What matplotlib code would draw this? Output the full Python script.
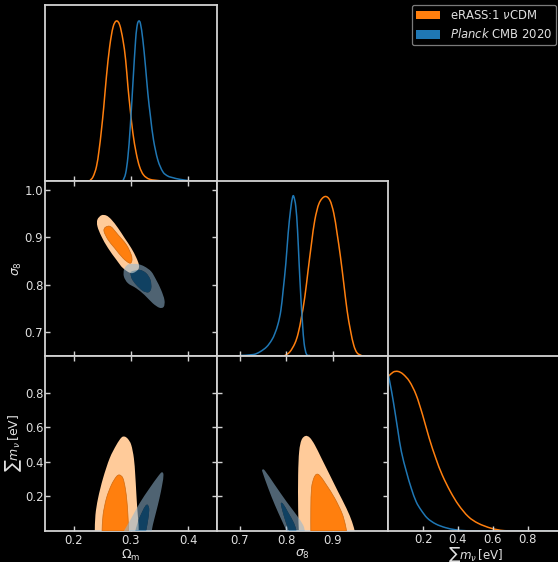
import numpy as np
import matplotlib
matplotlib.use("Agg")
import matplotlib.pyplot as plt
from matplotlib.path import Path
from matplotlib.patches import PathPatch, Patch

# ---------------------------------------------------------------- style
ORANGE = "#ff7f0e"
ORANGE_LIGHT = "#ffcb9a"
ORANGE_EDGE = "#d06a10"
BLUE = "#1f77b4"
BLUE_LIGHT = "#91b6d1"
BLUE_ALPHA = 0.55
FRAME = "#d2d2d2"
TEXT = "#e0e0e0"
FS = 8.4

# ---------------------------------------------------------------- parameters
param_labels = [r"$\Omega_\mathrm{m}$", r"$\sigma_8$", r"$\sum m_\nu\,[\mathrm{eV}]$"]
x_limits = [(0.15, 0.45), (0.65, 1.02), (0.0, 1.0)]
y_limits = [None, (0.65, 1.02), (0.0, 1.017)]
x_ticks = [[0.2, 0.3, 0.4], [0.7, 0.8, 0.9], [0.2, 0.4, 0.6, 0.8]]
y_ticks = [None, [0.7, 0.8, 0.9, 1.0], [0.2, 0.4, 0.6, 0.8]]

series_labels = [r"eRASS:1 $\nu$CDM", r"$\mathit{Planck}$ CMB 2020"]

# ---------------------------------------------------------------- 1D marginals
om_grid_erass = [0.2283, 0.234, 0.2399, 0.2445, 0.2486, 0.2527, 0.2573, 0.263, 0.2688,
                 0.2747, 0.2805, 0.2862, 0.2909, 0.2949, 0.299, 0.3036, 0.3094, 0.3152,
                 0.3222, 0.3328, 0.3502]
om_pdf_erass = [0.0, 0.025, 0.088, 0.192, 0.317, 0.463, 0.651, 0.839, 0.960, 1.0, 0.975,
                0.881, 0.756, 0.589, 0.443, 0.297, 0.172, 0.088, 0.036, 0.009, 0.0]
om_grid_planck = [0.2862, 0.2909, 0.2949, 0.299, 0.3036, 0.3083, 0.3112, 0.314, 0.3169,
                  0.321, 0.3256, 0.3297, 0.3343, 0.3396, 0.3471, 0.3559, 0.3646, 0.3733,
                  0.3849, 0.4023]
om_pdf_planck = [0.0, 0.046, 0.150, 0.338, 0.610, 0.881, 0.975, 1.0, 0.981, 0.881, 0.714,
                 0.547, 0.401, 0.255, 0.130, 0.056, 0.029, 0.019, 0.009, 0.0]

s8_grid_erass = [0.7969, 0.8077, 0.8184, 0.8255, 0.8328, 0.8399, 0.847, 0.8543, 0.8614,
                 0.8707, 0.8829, 0.8937, 0.9023, 0.9094, 0.9167, 0.9238, 0.9309, 0.9382,
                 0.9453, 0.9524, 0.9618]
s8_pdf_erass = [0.0, 0.023, 0.076, 0.139, 0.243, 0.369, 0.537, 0.706, 0.852, 0.958, 1.0,
                0.978, 0.895, 0.769, 0.621, 0.454, 0.285, 0.159, 0.065, 0.017, 0.0]
s8_grid_planck = [0.7001, 0.7287, 0.7431, 0.7575, 0.7683, 0.7754, 0.7825, 0.7883, 0.7932,
                  0.799, 0.804, 0.8091, 0.8134, 0.8162, 0.8205, 0.8242, 0.8276, 0.8313,
                  0.8349, 0.8384, 0.8435, 0.8506]
s8_pdf_planck = [0.0, 0.006, 0.023, 0.054, 0.096, 0.139, 0.202, 0.285, 0.411, 0.580, 0.769,
                 0.915, 0.995, 1.0, 0.936, 0.789, 0.580, 0.369, 0.202, 0.076, 0.008, 0.0]

mnu_grid_erass = [0.0, 0.028, 0.056, 0.085, 0.122, 0.16, 0.197, 0.235, 0.273, 0.31, 0.357,
                  0.404, 0.46, 0.517, 0.592, 0.667, 0.78, 1.0]
mnu_pdf_erass = [0.968, 0.996, 1.0, 0.983, 0.937, 0.853, 0.728, 0.582, 0.456, 0.351, 0.247,
                 0.163, 0.090, 0.048, 0.017, 0.002, 0.0, 0.0]
mnu_grid_planck = [0.0, 0.019, 0.038, 0.056, 0.075, 0.104, 0.132, 0.16, 0.188, 0.225, 0.273,
                   0.329, 0.385, 0.442, 0.5, 1.0]
mnu_pdf_planck = [0.98, 0.874, 0.749, 0.623, 0.498, 0.372, 0.268, 0.184, 0.132, 0.080, 0.044,
                  0.021, 0.008, 0.002, 0.0, 0.0]

# ---------------------------------------------------------------- 2D credible regions
# (x, y) boundary points of the 68% (inner) and 95% (outer) regions
om_s8_erass_95 = [(0.2486, 0.9468), (0.2573, 0.9462), (0.266, 0.9377), (0.2775, 0.920),
                  (0.2891, 0.8987), (0.3007, 0.8774), (0.3094, 0.8574), (0.314, 0.842),
                  (0.3123, 0.8313), (0.3007, 0.8243), (0.2862, 0.835), (0.2747, 0.8526),
                  (0.2601, 0.8774), (0.2486, 0.9021), (0.2416, 0.9234), (0.2416, 0.9377)]
om_s8_erass_68 = [(0.2555, 0.9213), (0.2648, 0.9228), (0.2775, 0.9057), (0.2921, 0.8845),
                  (0.3007, 0.8632), (0.3018, 0.8504), (0.2978, 0.8455), (0.2862, 0.8562),
                  (0.2717, 0.8774), (0.2601, 0.8951), (0.2531, 0.9128)]
om_s8_planck_95 = [(0.2978, 0.8434), (0.3123, 0.8434), (0.3239, 0.8383), (0.3356, 0.8277),
                   (0.3443, 0.810), (0.3529, 0.7887), (0.3587, 0.7674), (0.3575, 0.7532),
                   (0.350, 0.7511), (0.3384, 0.7604), (0.3239, 0.7781), (0.3094, 0.7923),
                   (0.2949, 0.803), (0.2879, 0.817), (0.2879, 0.8313), (0.2921, 0.8398)]
om_s8_planck_68 = [(0.3007, 0.8277), (0.3152, 0.8313), (0.3268, 0.8243), (0.3343, 0.810),
                   (0.3356, 0.7923), (0.3309, 0.7838), (0.321, 0.7866), (0.3094, 0.7994),
                   (0.3018, 0.8121), (0.2996, 0.8221)]

om_mnu_erass_95 = [(0.237, 0.0), (0.2381, 0.0928), (0.2427, 0.1895), (0.2514, 0.3054),
                   (0.263, 0.4214), (0.2747, 0.4986), (0.2834, 0.541), (0.2891, 0.547),
                   (0.2949, 0.5333), (0.3007, 0.4986), (0.3053, 0.4214), (0.3077, 0.3246),
                   (0.3094, 0.228), (0.3112, 0.1314), (0.3135, 0.0348), (0.3135, 0.0)]
om_mnu_erass_68 = [(0.2497, 0.0), (0.2514, 0.0928), (0.2573, 0.1895), (0.266, 0.2667),
                   (0.2747, 0.3148), (0.2804, 0.3246), (0.2862, 0.3054), (0.2903, 0.2475),
                   (0.2932, 0.170), (0.2949, 0.0928), (0.2961, 0.0)]
om_mnu_planck_95 = [(0.2879, 0.0), (0.3007, 0.0734), (0.3152, 0.1604), (0.3326, 0.2475),
                    (0.3471, 0.3148), (0.354, 0.3401), (0.357, 0.3246), (0.3547, 0.2667),
                    (0.350, 0.1895), (0.3443, 0.1121), (0.3384, 0.0348), (0.3366, 0.0)]
om_mnu_planck_68 = [(0.3077, 0.0), (0.3123, 0.0541), (0.3193, 0.1082), (0.3257, 0.1469),
                    (0.3297, 0.1507), (0.3321, 0.1217), (0.3297, 0.0541), (0.3268, 0.0)]

s8_mnu_erass_95 = [(0.827, 0.0), (0.8255, 0.1314), (0.8255, 0.3246), (0.8277, 0.4599),
                   (0.8328, 0.5275), (0.8414, 0.5507), (0.8506, 0.541), (0.8614, 0.4986),
                   (0.8758, 0.4214), (0.8937, 0.3246), (0.9115, 0.228), (0.9296, 0.1314),
                   (0.9416, 0.0541), (0.9474, 0.0)]
s8_mnu_erass_68 = [(0.8528, 0.0), (0.8528, 0.1314), (0.8543, 0.2475), (0.8592, 0.3054),
                   (0.865, 0.3285), (0.8722, 0.3208), (0.8865, 0.2667), (0.9044, 0.1895),
                   (0.9201, 0.1024), (0.9274, 0.0348), (0.9296, 0.0)]
s8_mnu_planck_95 = [(0.8005, 0.0), (0.7898, 0.0638), (0.7754, 0.1507), (0.7611, 0.2475),
                    (0.7496, 0.3343), (0.7481, 0.3536), (0.7539, 0.3497), (0.7754, 0.2667),
                    (0.8005, 0.170), (0.822, 0.0928), (0.8362, 0.0348), (0.8399, 0.0)]
s8_mnu_planck_68 = [(0.7883, 0.1604), (0.7933, 0.1565), (0.804, 0.1082), (0.8169, 0.0444),
                    (0.822, 0.0), (0.8055, 0.0), (0.7984, 0.0541), (0.7911, 0.1217)]

marginals = [
    [(om_grid_erass, om_pdf_erass), (om_grid_planck, om_pdf_planck)],
    [(s8_grid_erass, s8_pdf_erass), (s8_grid_planck, s8_pdf_planck)],
    [(mnu_grid_erass, mnu_pdf_erass), (mnu_grid_planck, mnu_pdf_planck)],
]
regions = {
    (1, 0): [(om_s8_erass_95, om_s8_erass_68), (om_s8_planck_95, om_s8_planck_68)],
    (2, 0): [(om_mnu_erass_95, om_mnu_erass_68), (om_mnu_planck_95, om_mnu_planck_68)],
    (2, 1): [(s8_mnu_erass_95, s8_mnu_erass_68), (s8_mnu_planck_95, s8_mnu_planck_68)],
}


# ---------------------------------------------------------------- helpers
def catmull_rom(points, closed):
    """Bezier path (CURVE4) passing through every given point."""
    P = np.asarray(points, float)
    if closed:
        ext = np.vstack([P[-1:], P, P[:2]])
    else:
        ext = np.vstack([P[:1], P, P[-1:]])
    verts = [P[0]]
    codes = [Path.MOVETO]
    for i in range(1, len(ext) - 2):
        p0, p1, p2, p3 = ext[i - 1], ext[i], ext[i + 1], ext[i + 2]
        verts += [p1 + (p2 - p0) / 6.0, p2 - (p3 - p1) / 6.0, p2]
        codes += [Path.CURVE4] * 3
    return verts, codes


def outline(points):
    """Closed outline; a region cut by the m_nu = 0 boundary keeps a straight base."""
    P = [tuple(p) for p in points]
    n = len(P)
    cut = None
    for i in range(n):
        if P[i][1] == 0.0 and P[(i + 1) % n][1] == 0.0:
            cut = i
    if cut is None:
        verts, codes = catmull_rom(P, closed=True)
    else:
        order = P[cut + 1:] + P[:cut + 1]
        verts, codes = catmull_rom(order, closed=False)
    verts.append(verts[0])
    codes.append(Path.CLOSEPOLY)
    return np.array(verts), codes


def signed_area(points):
    p = np.asarray(points, float)
    x, y = p[:, 0], p[:, 1]
    return 0.5 * np.sum(x * np.roll(y, -1) - np.roll(x, -1) * y)


def ring_path(outer, inner):
    if np.sign(signed_area(outer)) == np.sign(signed_area(inner)):
        inner = inner[::-1]
    vo, co = outline(outer)
    vi, ci = outline(inner)
    return Path(np.vstack([vo, vi]), co + ci)


def curve_patch(x, y, color):
    verts, codes = catmull_rom(list(zip(x, y)), closed=False)
    return PathPatch(Path(np.array(verts), codes), facecolor="none", edgecolor=color,
                     lw=1.1, capstyle="round", joinstyle="round")


def style_axes(ax, diagonal=False):
    ax.set_facecolor("black")
    for s in ax.spines.values():
        s.set_color(FRAME)
        s.set_linewidth(1.3)
    ax.tick_params(direction="in", colors=FRAME, labelcolor=TEXT, labelsize=FS,
                   length=3.5, width=1.0, top=not diagonal, right=not diagonal,
                   left=not diagonal)
    ax.tick_params(axis="x", pad=2.0)
    ax.tick_params(axis="y", pad=1.2)


# ---------------------------------------------------------------- layout
fig = plt.figure(figsize=(5.58, 5.62), dpi=100, facecolor="black")
W, H = 558.0, 562.0
col_left = [45.0, 216.7, 388.3]
col_width = [171.7, 171.7, 174.0]
row_top = [5.0, 180.7, 355.5]
row_height = [175.7, 174.8, 175.5]

axes = {}
for r in range(3):
    for c in range(r + 1):
        rect = [col_left[c] / W, (H - row_top[r] - row_height[r]) / H,
                col_width[c] / W, row_height[r] / H]
        ax = fig.add_axes(rect)
        style_axes(ax, diagonal=(r == c))
        axes[(r, c)] = ax

# diagonal: 1D marginals
for i in range(3):
    ax = axes[(i, i)]
    (xe, pe), (xp, pp) = marginals[i]
    ax.add_patch(curve_patch(xe, pe, ORANGE))
    ax.add_patch(curve_patch(xp, pp, BLUE))
    ax.set_xlim(*x_limits[i])
    ax.set_ylim(0, 1.1)
    ax.set_yticks([])
    ax.set_xticks(x_ticks[i])
    if i < 2:
        ax.tick_params(labelbottom=False)

# off-diagonal: 2D credible regions
for (r, c), sets in regions.items():
    ax = axes[(r, c)]
    (e95, e68), (p95, p68) = sets
    v, cd = outline(e95)
    ax.add_patch(PathPatch(Path(v, cd), facecolor=ORANGE_LIGHT, edgecolor="none", zorder=2))
    v, cd = outline(e68)
    ax.add_patch(PathPatch(Path(v, cd), facecolor=ORANGE, edgecolor=ORANGE_EDGE,
                           lw=0.5, zorder=3))
    ax.add_patch(PathPatch(ring_path(p95, p68), facecolor=BLUE_LIGHT, edgecolor="none",
                           alpha=BLUE_ALPHA, zorder=4))
    v, cd = outline(p68)
    ax.add_patch(PathPatch(Path(v, cd), facecolor=BLUE, edgecolor="none",
                           alpha=BLUE_ALPHA, zorder=4))
    ax.set_xlim(*x_limits[c])
    ax.set_ylim(*y_limits[r])
    ax.set_xticks(x_ticks[c])
    ax.set_yticks(y_ticks[r])
    if r < 2:
        ax.tick_params(labelbottom=False)
    if c > 0:
        ax.tick_params(labelleft=False)

# axis labels
for c in range(2):
    axes[(2, c)].set_xlabel(param_labels[c], color=TEXT, fontsize=9, labelpad=0.5)
mnu_ax = axes[(2, 2)]
mnu_ax.tick_params(axis="x", pad=1.4)
mnu_ax.set_xlabel(param_labels[2], color=TEXT, fontsize=8.6, labelpad=-1.0)
for r in (1, 2):
    axes[(r, 0)].set_ylabel(param_labels[r], color=TEXT, fontsize=9, labelpad=0.5)

# legend
handles = [Patch(facecolor=ORANGE, edgecolor="none"), Patch(facecolor=BLUE, edgecolor="none")]
leg = fig.legend(handles, series_labels, loc="upper right",
                 bbox_to_anchor=(556 / W, 1 - 5 / H), borderaxespad=0.0,
                 frameon=True, fontsize=FS, labelcolor=TEXT,
                 handlelength=2.1, handleheight=0.75,
                 borderpad=0.35, labelspacing=0.45, handletextpad=0.8, fancybox=True)
leg.get_frame().set_facecolor("black")
leg.get_frame().set_edgecolor("#9a9a9a")
leg.get_frame().set_linewidth(0.9)

fig.savefig("out.png", dpi=100, facecolor="black")
